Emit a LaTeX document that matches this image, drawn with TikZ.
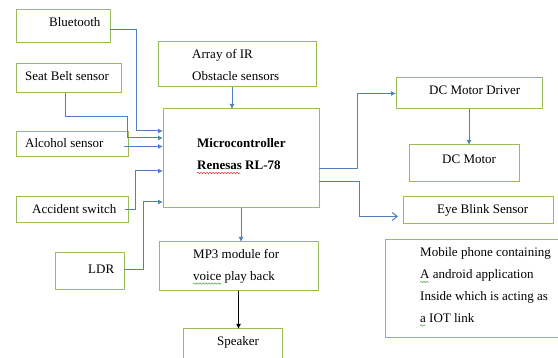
\documentclass[tikz,border=0pt]{standalone}
\usepackage{fontspec}
\setmainfont{Liberation Serif}
\usetikzlibrary{arrows.meta,calc,decorations.pathmorphing}
\definecolor{boxgreen}{RGB}{155,187,89}
\definecolor{linkblue}{RGB}{79,129,189}
\definecolor{squigred}{RGB}{225,60,60}
\definecolor{squiggreen}{RGB}{95,170,85}

\begin{document}
\begin{tikzpicture}[x=1pt,y=-1pt,>={Latex[length=5pt,width=5pt]},
		font=\fontsize{13}{22}\selectfont]
		\tikzstyle{blk}=[draw=boxgreen,line width=1pt,inner sep=0pt,outer sep=0pt,anchor=north west]
		\tikzstyle{lbl}=[inner sep=0pt,anchor=base west,align=left]
		\tikzstyle{link}=[->,draw=linkblue,line width=1pt]
		\tikzstyle{squig}=[decorate,decoration={snake,segment length=3pt,amplitude=0.7pt},line width=0.6pt]

		\useasboundingbox[fill=white] (0,0) rectangle (558,358);

		% inputs on the left
		\node[blk,minimum width=94pt,minimum height=33pt] (bt) at (16,10) {};
		\node[blk,minimum width=105pt,minimum height=29pt] (sb) at (16,64) {};
		\node[blk,minimum width=112pt,minimum height=25pt] (al) at (16,132) {};
		\node[blk,minimum width=112pt,minimum height=26pt] (acc) at (16,197) {};
		\node[blk,minimum width=69pt,minimum height=37pt] (ldr) at (55,253) {};

		% middle column
		\node[blk,minimum width=158pt,minimum height=45pt] (ir) at (158,42) {};
		\node[blk,minimum width=156pt,minimum height=99pt] (mc) at (163,109) {};
		\node[blk,minimum width=159pt,minimum height=49pt] (mp3) at (159,242) {};
		\node[blk,minimum width=99pt,minimum height=36pt] (spk) at (183,329) {};

		% outputs on the right
		\node[blk,minimum width=146pt,minimum height=31pt] (drv) at (396,78) {};
		\node[blk,minimum width=110pt,minimum height=37pt] (mot) at (409,145) {};
		\node[blk,minimum width=150pt,minimum height=27pt] (eye) at (403,197) {};
		\node[blk,minimum width=180pt,minimum height=98pt] (mob) at (385,240) {};

		% texts (base = last line)
		\node[lbl] (bt-t) at (49,27) {Bluetooth};
		\node[lbl] (sb-t) at (25,81) {Seat Belt sensor};
		\node[lbl] (al-t) at (25,148) {Alcohol sensor};
		\node[lbl] (acc-t) at (32,214) {Accident switch};
		\node[lbl] (ldr-t) at (88,274) {LDR};
		\node[lbl] (ir-t) at (192,81) {Array of IR\\Obstacle sensors};
		\node[lbl,font=\fontsize{13}{22}\selectfont\bfseries] (mc-t) at (197,170) {Microcontroller\\Renesas RL-78};
		\node[lbl] (mp3-t) at (193,281) {MP3 module for\\voice play back};
		\node[lbl] (spk-t) at (217,346) {Speaker};
		\node[lbl] (drv-t) at (429,95) {DC Motor Driver};
		\node[lbl] (mot-t) at (442,164) {DC Motor};
		\node[lbl] (eye-t) at (437,214) {Eye Blink Sensor};
		\node[lbl] (mob-t) at (420,323) {Mobile phone containing\\A android application\\Inside which is acting as\\a IOT link};

		% spell check marks
		\draw[squig,draw=squigred] ($(mc-t.base west)+(0,3)$) -- ++(43,0);
		\draw[squig,draw=squiggreen] ($(mp3-t.base west)+(0,2.5)$) -- ++(28,0);
		\draw[squig,draw=squiggreen] ($(mob-t.base west)+(0,-41)$) -- ++(9,0);
		\draw[squig,draw=squiggreen] ($(mob-t.base west)+(0,2.5)$) -- ++(5,0);

		% connections into the controller
		\draw[link] ([yshift=-3pt]bt.east) -- ++(26,0) |- ($(mc.north west)+(0,22)$);
		\draw[link] ([xshift=-3pt]sb.south) |- (127,117) |- ($(mc.north west)+(0,29)$);
		\draw[link] ([shift={(-4pt,-2pt)}]al.east) coordinate (al-o) -- (al-o -| mc.west);
		\draw[link] ([xshift=-3pt]acc.east) -- ++(10,0) |- ($(mc.north west)+(0,62)$);
		\draw[link] ([yshift=2pt]ldr.east) -- ++(19,0) |- ($(mc.north west)+(0,93)$);
		\draw[link] ([xshift=-5pt]ir.south) coordinate (ir-o) -- (ir-o |- mc.north);

		% connections out of the controller
		\draw[link] (mc.south) -- (mc.south |- mp3.north);
		\draw[->,line width=1pt] (mp3.south) -- (mp3.south |- spk.north);
		\draw[link] ([yshift=-10pt]mc.east) -- ++(38,0) |- (drv.west);
		\draw[link] (drv.south) -- (drv.south |- mot.north);
		\draw[link,-{Straight Barb[length=5pt,width=8pt]}] ([yshift=-23pt]mc.east) -- ++(40,0) |- ($(eye.west)+(-5,6)$);
	\end{tikzpicture}
\end{document}
